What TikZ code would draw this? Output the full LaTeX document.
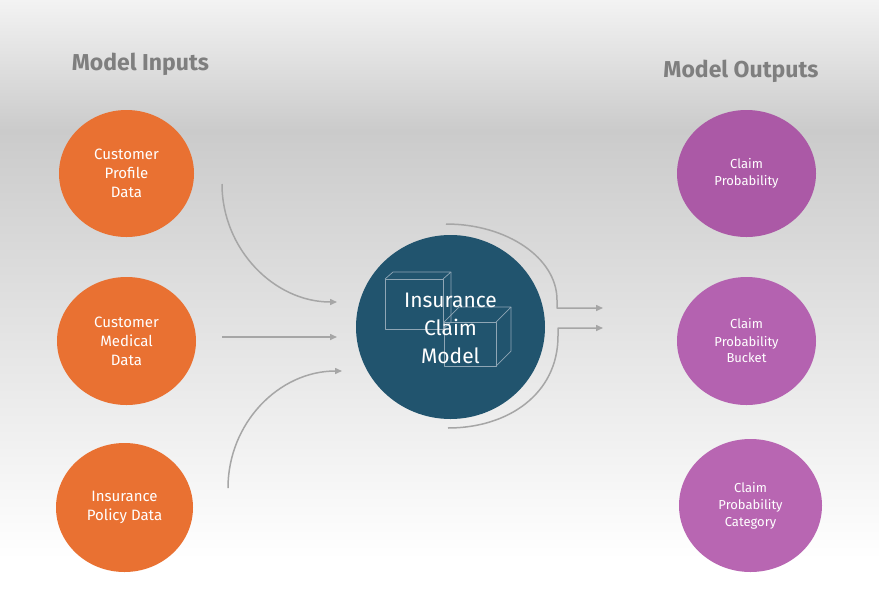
\documentclass[tikz,border=0pt]{standalone}
\usepackage{fontspec}
\setmainfont{Fira Sans}
\usetikzlibrary{shapes.geometric,arrows.meta}
\definecolor{inorange}{HTML}{E97132}
\definecolor{modelteal}{HTML}{21546E}
\definecolor{outpurpleA}{HTML}{AB59A6}
\definecolor{outpurpleB}{HTML}{B462B0}
\definecolor{outpurpleC}{HTML}{B866B2}
\definecolor{arrowgray}{HTML}{A6A6A6}
\definecolor{headgray}{HTML}{7F7F7F}
\definecolor{cubeline}{HTML}{8FA6B5}
\tikzset{
  blob/.style={ellipse, inner sep=0pt, align=center, text=white},
  inblob/.style={blob, fill=inorange, font=\fontsize{15}{19}\selectfont},
  outblob/.style={blob, font=\fontsize{13}{17}\selectfont},
  heading/.style={font=\fontsize{23}{26}\selectfont\bfseries, text=headgray},
  flow/.style={draw=arrowgray, line width=1.5pt, -{Triangle[length=7pt,width=6pt]}},
  cube/.style={draw=cubeline, line width=0.7pt, line join=round}
}
\begin{document}
\begin{tikzpicture}[x=1pt,y=-1pt]
% background
\shade[top color={rgb,255:red,243;green,243;blue,243}, bottom color={rgb,255:red,203;green,203;blue,203}] (0,0) rectangle (879,130);
\shade[top color={rgb,255:red,203;green,203;blue,203}, bottom color=white] (0,130) rectangle (879,560);
\fill[white] (0,560) rectangle (879,614);
\useasboundingbox (0,0) rectangle (879,614);

% headings
\node[heading] (hin) at (140.5,64) {Model Inputs};
\node[heading] (hout) at (741,71) {Model Outputs};

% inputs
\node[inblob, minimum width=135pt, minimum height=127pt] (cpd) at (126.5,173.5) {Customer\\Profile\\Data};
\node[inblob, minimum width=139pt, minimum height=128pt] (cmd) at (126.5,341) {Customer\\Medical\\Data};
\node[inblob, minimum width=137pt, minimum height=129pt] (ipd) at (124.5,507.5) {Insurance\\Policy Data};

% outputs
\node[outblob, fill=outpurpleA, minimum width=139pt, minimum height=127pt] (cp) at (746.5,173.5) {Claim\\Probability};
\node[outblob, fill=outpurpleB, minimum width=139pt, minimum height=128pt] (cpb) at (746.5,341) {Claim\\Probability\\Bucket};
\node[outblob, fill=outpurpleC, minimum width=143pt, minimum height=133pt] (cpc) at (750.5,505.5) {Claim\\Probability\\Category};

% model
\node[ellipse, fill=modelteal, inner sep=0pt, minimum width=189pt, minimum height=184pt] (model) at (450.5,327) {};
\draw[cube] (385,279) rectangle (443,329);
\draw[cube] (385,279) -- (393,272) -- (451,272) -- (443,279);
\draw[cube] (451,272) -- (451,322) -- (443,329);
\draw[cube] (444,322) rectangle (496,366);
\draw[cube] (444,322) -- (459,307) -- (511,307) -- (496,322);
\draw[cube] (511,307) -- (511,351) -- (496,366);
\node[text=white, align=center, font=\fontsize{21}{28}\selectfont] (mtext) at (450.5,328) {Insurance\\Claim\\Model};

% input connectors
\coordinate (a1s) at (222,184);
\coordinate (a1e) at (337,302);
\coordinate (a2s) at (222,337);
\coordinate (a2e) at (337,337);
\coordinate (a3s) at (228,488);
\coordinate (a3e) at (342,371);
\draw[flow] (a1s) .. controls (222,249) and (274,302) .. (a1e);
\draw[flow] (a2s) -- (a2e);
\draw[flow] (a3s) .. controls (228,423) and (279,371) .. (a3e);

% output connectors
\coordinate (o1s) at (446,224);
\coordinate (o1c) at (557,308);
\coordinate (o1e) at (603,308);
\coordinate (o2s) at (448,428);
\coordinate (o2c) at (558,328);
\coordinate (o2e) at (603,328);
\draw[flow, line join=round] (o1s) .. controls (507,224) and (557,258) .. (557,300) -- (o1c) -- (o1e);
\draw[flow, line join=round] (o2s) .. controls (508,428) and (558,394) .. (558,336) -- (o2c) -- (o2e);
\end{tikzpicture}
\end{document}
